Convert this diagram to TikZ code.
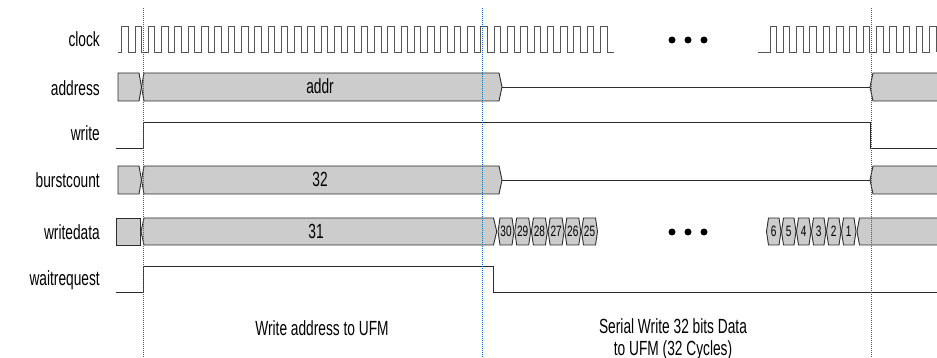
\documentclass[tikz,border=0pt]{standalone}
\usepackage{fontspec}
\setmainfont{Liberation Sans}[FakeStretch=0.67]
\usetikzlibrary{calc}

\definecolor{buscolor}{RGB}{204,204,204}
\definecolor{edgecolor}{RGB}{45,45,45}
\definecolor{clkcolor}{RGB}{85,85,85}
\definecolor{markercolor}{RGB}{0,110,185}

\tikzset{
  %% signal : a single-bit waveform
  signal/.style={draw=edgecolor, line width=0.9pt},
  %% clk : the clock waveform
  clk/.style={draw=clkcolor, line width=0.9pt},
  %% bus : one value on a multi-bit bus
  bus/.style={fill=buscolor, draw=edgecolor, line width=0.9pt},
  %% marker : dotted time marker
  marker/.style={markercolor, line width=1pt, dash pattern=on 1pt off 1pt},
  %% signame : signal name on the left
  signame/.style={anchor=base east, inner sep=0pt,
    font=\fontsize{20.5}{22}\selectfont},
  %% busval : text on a bus
  busval/.style={anchor=base, inner sep=0pt,
    font=\fontsize{20.5}{22}\selectfont},
  %% cellval : text in a narrow bus cell
  cellval/.style={inner sep=0pt, font=\fontsize{15}{16}\selectfont},
  %% note : phase description below the waveforms
  note/.style={anchor=base, align=center, inner sep=0pt,
    font=\fontsize{20.5}{21.5}\selectfont},
  %% dots : ellipsis dot
  dots/.style={circle, fill=black, minimum size=7pt, inner sep=0pt}
}

%% one narrow bus cell: #1 = left x, #2 = right x, #3 = centre y, #4 = value
\newcommand{\hexcell}[4]{%
  \filldraw[bus] (#1,#3) -- ++(2,-13.5) -- ({#2-2},{#3-13.5}) -- (#2,#3)
    -- ({#2-2},{#3+13.5}) -- ({#1+2},{#3+13.5}) -- cycle;
  \node[cellval] (cell#4) at ({(#1+#2)/2},#3) {#4};
}

\begin{document}
\begin{tikzpicture}[x=1pt, y=-1pt]
  \useasboundingbox (0,0) rectangle (937,358);

  %% Signal names
  \node (clocklbl) [signame] at (100,47) {clock};
  \node (addresslbl) [signame] at (100,96) {address};
  \node (writelbl) [signame] at (100,141) {write};
  \node (burstlbl) [signame] at (100,187.5) {burstcount};
  \node (datalbl) [signame] at (100,240) {writedata};
  \node (waitlbl) [signame] at (100,285) {waitrequest};

  %% Clock
  \draw [clk] (118,52)
    foreach \k in {0,...,36}{
      -- ({121.7+13.3*\k},52) -- ++(0,-26) -- ++(6.6,0) -- ++(0,26)}
    -- (613.5,52);
  \draw [clk] (758,52)
    foreach \k in {0,...,12}{
      -- ({770+13.3*\k},52) -- ++(0,-26) -- ++(6.6,0) -- ++(0,26)};
  \foreach \dx in {672,688,704}{
    \node (clkdot\dx) [dots] at (\dx,40) {};
  }

  %% address and burstcount
  \foreach \yc/\val/\nm in {87/addr/addrval,180/32/burstval}{
    \filldraw [bus] (118,{\yc-14}) -- (139,{\yc-14}) -- (141.5,\yc)
      -- (139,{\yc+14}) -- (118,{\yc+14}) -- cycle;
    \filldraw [bus] (141.5,\yc) -- (144,{\yc-14}) -- (499,{\yc-14})
      -- (502,\yc) -- (499,{\yc+14}) -- (144,{\yc+14}) -- cycle;
    \draw [signal] (502,\yc) -- (870,\yc);
    \filldraw [bus] (940,{\yc-14}) -- (873,{\yc-14}) -- (870,\yc)
      -- (873,{\yc+14}) -- (940,{\yc+14});
    \node (\nm) [busval] at (320,{\yc+7}) {\val};
  }

  %% write
  \draw [signal] (116,148) -- (143,148) -- (143,122) -- (870,122)
    -- (870,148) -- (937,148);

  %% writedata
  \filldraw [bus] (116,218) rectangle (140,245);
  \filldraw [bus] (141,231.5) -- (144,218) -- (493.5,218) -- (496.7,231.5)
    -- (493.5,245) -- (144,245) -- cycle;
  \node (dataval) [busval] at (316,238.5) {31};
  \foreach \v [count=\i from 0] in {30,29,28,27,26,25}{
    \hexcell{498+16.7*\i}{514+16.7*\i}{231.5}{\v}
  }
  \foreach \v [count=\i from 0] in {6,5,4,3,2,1}{
    \hexcell{766.5+15*\i}{781+15*\i}{231.5}{\v}
  }
  \filldraw [bus] (940,218) -- (859.5,218) -- (857,231.5) -- (859.5,245)
    -- (940,245);
  \foreach \dx in {672,688,704}{
    \node (datadot\dx) [dots] at (\dx,232) {};
  }

  %% waitrequest
  \draw [signal] (116,292) -- (143,292) -- (143,266) -- (493,266)
    -- (493,292) -- (937,292);

  %% Phases
  \node (addrphase) [note] at (322,335.5) {Write address to UFM};
  \node (dataphase) [note] at (673,355) {Serial Write 32 bits Data\\
    to UFM (32 Cycles)};

  %% Time markers
  \foreach \mx in {143,482,871}{
    \draw [marker] (\mx,8) -- (\mx,358);
  }
\end{tikzpicture}
\end{document}
